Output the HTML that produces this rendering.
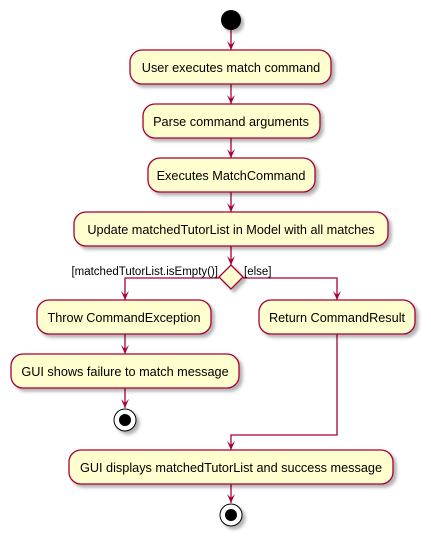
<!DOCTYPE html>
<html><head><meta charset="utf-8"><style>body{margin:0;background:#fff}</style></head><body>
<svg width="431" height="542" xmlns="http://www.w3.org/2000/svg" font-family="Liberation Sans, sans-serif" font-size="12.7">
<defs>
<filter id="sh" x="-10%" y="-20%" width="130%" height="160%"><feDropShadow dx="3" dy="3" stdDeviation="1.5" flood-color="#000" flood-opacity="0.3"/></filter>
</defs>
<g stroke="#A80036" stroke-width="1.3" fill="none">
<line x1="231" y1="30" x2="231" y2="50"/>
<line x1="231" y1="84" x2="231" y2="104"/>
<line x1="231" y1="138" x2="231" y2="158"/>
<line x1="231" y1="192" x2="231" y2="212"/>
<line x1="231" y1="246" x2="231" y2="265"/>
<polyline points="219,278 125,278 125,300"/>
<polyline points="243,278 337,278 337,300"/>
<line x1="125" y1="334" x2="125" y2="354"/>
<line x1="125" y1="388" x2="125" y2="408"/>
<polyline points="337,334 337,435 231,435 231,450"/>
<line x1="231" y1="484" x2="231" y2="503"/>
</g>
<g fill="#A80036">
<path d="M227,41 L231,50 L235,41 L231,45Z"/>
<path d="M227,95 L231,104 L235,95 L231,99Z"/>
<path d="M227,149 L231,158 L235,149 L231,153Z"/>
<path d="M227,203 L231,212 L235,203 L231,207Z"/>
<path d="M227,256 L231,265 L235,256 L231,260Z"/>
<path d="M121,291 L125,300 L129,291 L125,295Z"/>
<path d="M333,291 L337,300 L341,291 L337,295Z"/>
<path d="M121,345 L125,354 L129,345 L125,349Z"/>
<path d="M121,399 L125,408 L129,399 L125,403Z"/>
<path d="M227,441 L231,450 L235,441 L231,445Z"/>
<path d="M227,494 L231,503 L235,494 L231,498Z"/>
</g>
<circle cx="231" cy="20" r="10" fill="#000" filter="url(#sh)"/>
<g fill="#FEFECE" stroke="#A80036" stroke-width="1.3" filter="url(#sh)">
<rect x="130" y="50" width="201" height="34" rx="12"/>
<rect x="143" y="104" width="177" height="34" rx="12"/>
<rect x="148" y="158" width="167" height="34" rx="12"/>
<rect x="74" y="212" width="314" height="34" rx="12"/>
<polygon points="231,265 243,277 231,289 219,277"/>
<rect x="37" y="300" width="174" height="34" rx="12"/>
<rect x="259" y="300" width="156" height="34" rx="12"/>
<rect x="11" y="354" width="228" height="34" rx="12"/>
<rect x="69" y="450" width="324" height="34" rx="12"/>
</g>
<g fill="#fff" stroke="#000" stroke-width="1" filter="url(#sh)">
<circle cx="125" cy="420" r="11"/>
<circle cx="231" cy="515" r="11"/>
</g>
<circle cx="125" cy="420" r="6" fill="#000"/>
<circle cx="231" cy="515" r="6" fill="#000"/>
<g fill="#000" text-anchor="middle">
<text x="231" y="72">User executes match command</text>
<text x="231" y="126">Parse command arguments</text>
<text x="231" y="180">Executes MatchCommand</text>
<text x="231" y="234">Update matchedTutorList in Model with all matches</text>
<text x="124" y="322">Throw CommandException</text>
<text x="337" y="322">Return CommandResult</text>
<text x="125" y="376">GUI shows failure to match message</text>
<text x="231" y="472">GUI displays matchedTutorList and success message</text>
<text x="218" y="275" text-anchor="end" font-size="11.5">[matchedTutorList.isEmpty()]</text>
<text x="244" y="275" text-anchor="start" font-size="11.5">[else]</text>
</g>
</svg>
</body></html>
